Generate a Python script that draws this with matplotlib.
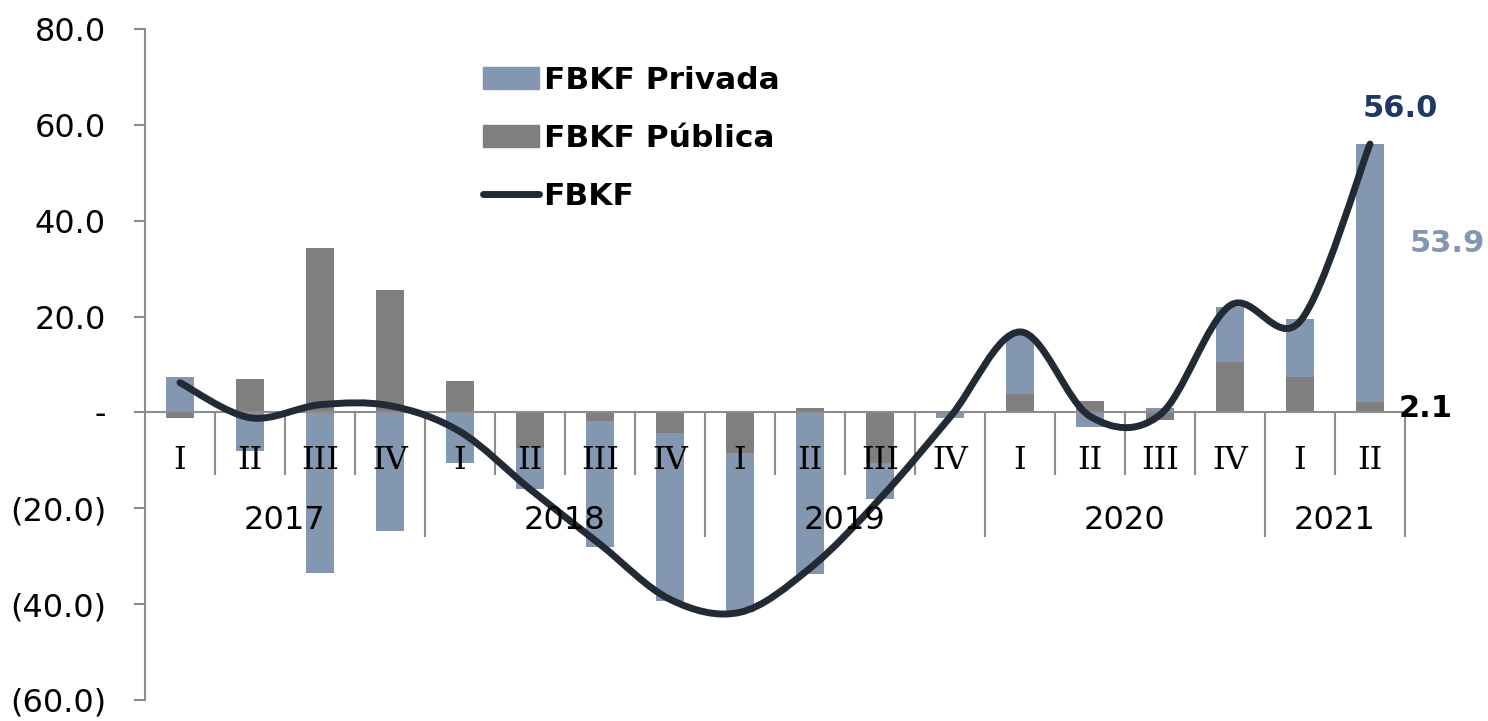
import matplotlib
matplotlib.use("Agg")
import matplotlib.pyplot as plt
from matplotlib.path import Path
from matplotlib.patches import PathPatch, Patch
from matplotlib.lines import Line2D
from matplotlib.ticker import FuncFormatter
import numpy as np

# data
quarters = ['I', 'II', 'III', 'IV',
            'I', 'II', 'III', 'IV',
            'I', 'II', 'III', 'IV',
            'I', 'II', 'III', 'IV',
            'I', 'II']
years = ['2017', '2018', '2019', '2020', '2021']
quarters_per_year = [4, 4, 4, 4, 2]
privada = [7.4, -8.0, -33.5, -24.7, -10.6, -8.5, -26.3, -35.0, -33.2,
           -33.8, -7.4, -1.2, 12.5, -3.1, 1.0, 11.3, 12.0, 53.9]
publica = [-1.2, 6.9, 34.4, 25.6, 6.5, -7.5, -1.8, -4.3, -8.5,
           1.0, -10.6, 0.2, 3.9, 2.3, -1.5, 10.6, 7.4, 2.1]
fbkf = [6.2, -1.1, 1.6, 1.4, -4.0, -16.0, -27.5, -39.0, -41.7,
        -32.5, -18.0, -1.0, 16.8, -0.8, -0.5, 22.3, 19.0, 56.0]
yticks = [80, 60, 40, 20, 0, -20, -40, -60]

c_priv = '#8497B0'
c_pub = '#7F7F7F'
c_line = '#222A35'
c_axis = '#8C8C8C'

plt.rcParams['font.family'] = 'DejaVu Sans'

fig = plt.figure(figsize=(14.88, 7.21), dpi=100)
ax = fig.add_axes([145 / 1488, 1 - 700 / 721, 1260 / 1488, 671 / 721])

x = np.arange(len(quarters))
priv = np.array(privada)
pub = np.array(publica)

# excel-style stacking: positives and negatives stacked separately
pub_base = np.zeros(len(x))
priv_base = np.where(np.sign(priv) == np.sign(pub), pub, 0.0)
ax.bar(x, pub, 0.4, bottom=pub_base, color=c_pub, zorder=2)
ax.bar(x, priv, 0.4, bottom=priv_base, color=c_priv, zorder=2)

# smoothed line (catmull-rom as bezier, like excel's smoothed line)
pts = np.column_stack([x, fbkf]).astype(float)
verts = [tuple(pts[0])]
codes = [Path.MOVETO]
for i in range(len(pts) - 1):
    p0 = pts[i - 1] if i > 0 else pts[i]
    p1 = pts[i]
    p2 = pts[i + 1]
    p3 = pts[i + 2] if i + 2 < len(pts) else pts[i + 1]
    c1 = p1 + (p2 - p0) / 6
    c2 = p2 - (p3 - p1) / 6
    verts += [tuple(c1), tuple(c2), tuple(p2)]
    codes += [Path.CURVE4] * 3
ax.add_patch(PathPatch(Path(verts, codes), facecolor='none', edgecolor=c_line,
                       lw=5, capstyle='round', joinstyle='round', zorder=4))

ax.set_xlim(-0.5, len(x) - 0.5)
ax.set_ylim(-60, 80)
ax.set_yticks(yticks)


def fmt(v, pos):
    if v == 0:
        return '-'
    if v < 0:
        return f'({-v:.1f})'
    return f'{v:.1f}'


ax.yaxis.set_major_formatter(FuncFormatter(fmt))
ax.tick_params(axis='y', labelsize=23, length=8, width=1.5, color=c_axis, pad=20)
ax.tick_params(axis='x', bottom=False, labelbottom=False)
for s in ['top', 'right', 'bottom']:
    ax.spines[s].set_visible(False)
ax.spines['left'].set_color(c_axis)
ax.spines['left'].set_linewidth(1.5)
ax.axhline(0, color=c_axis, lw=1.5, zorder=3)

# category axis inside the plot
for i, q in enumerate(quarters):
    ax.text(i, -10, q, ha='center', va='center', fontsize=23,
            family='DejaVu Serif', zorder=5)
year_ends = np.cumsum(quarters_per_year)
start = 0
for yr, n, end in zip(years, quarters_per_year, year_ends):
    ax.text(start + (n - 1) / 2, -22.5, yr, ha='center', va='center', fontsize=23, zorder=5)
    inner = [b - 0.5 for b in range(start + 1, end)]
    ax.vlines(inner, 0, -13, color=c_axis, lw=1.5, zorder=3)
    ax.vlines(end - 0.5, 0, -26, color=c_axis, lw=1.5, zorder=3, clip_on=False)
    start = end

# data labels for the last quarter
last = len(x) - 1
ax.text(last + 0.43, fbkf[-1] + 7.5, f'{fbkf[-1]:.1f}', ha='center', va='center',
        fontsize=22, fontweight='bold', color='#1F3864', clip_on=False)
ax.text(last + 1.1, privada[-1] / 2 + 8.2, f'{privada[-1]:.1f}', ha='center', va='center',
        fontsize=22, fontweight='bold', color=c_priv, clip_on=False)
ax.text(last + 0.79, publica[-1] - 1.3, f'{publica[-1]:.1f}', ha='center', va='center',
        fontsize=22, fontweight='bold', color='black', clip_on=False)

handles = [Patch(color=c_priv), Patch(color=c_pub),
           Line2D([], [], color=c_line, lw=5, solid_capstyle='round')]
ax.legend(handles, ['FBKF Privada', 'FBKF Pública', 'FBKF'], loc='upper left',
          bbox_to_anchor=(0.268, 0.945), frameon=False, borderpad=0, borderaxespad=0,
          handlelength=1.8, handletextpad=0.15, labelspacing=0.93,
          prop={'size': 22.5, 'weight': 'bold'})

fig.savefig('out.png', dpi=100)
